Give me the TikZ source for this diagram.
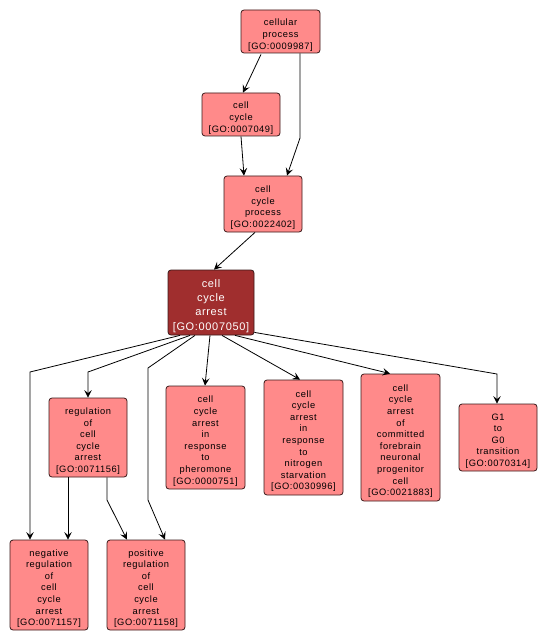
\documentclass[tikz,border=0pt]{standalone}
\usepackage{fontspec}
\setmainfont{Liberation Sans}[LetterSpace=6]
\usetikzlibrary{arrows.meta}
\definecolor{nodefill}{HTML}{FF8A8A}
\definecolor{arrestfill}{HTML}{A02E2E}
\definecolor{nodeborder}{HTML}{3A1A1A}
\tikzset{
  goterm/.style={draw=nodeborder, fill=nodefill, rounded corners=3pt, line width=0.8pt,
    inner sep=0pt},
  golbl/.style={align=center, inner sep=0pt, yshift=-3.5pt,
    font=\fontsize{9.3}{11.6}\selectfont, text=black},
  goarrest/.style={goterm, fill=arrestfill},
  arrlbl/.style={golbl, text=white, font=\fontsize{11}{14.2}\selectfont},
  edge/.style={draw=black, line width=0.8pt, -{Stealth[length=7.5pt,width=7.5pt,inset=3pt]}}
}
\begin{document}
\begin{tikzpicture}[x=1pt,y=-1pt]
\useasboundingbox (0,0) rectangle (548,644);
\fill[white] (0,0) rectangle (548,644);
\node[goterm, minimum width=79pt, minimum height=43pt, label={[golbl]center:{cellular\\process\\{[GO:0009987]}}}] (cp) at (280.5,31.5) {};
\node[goterm, minimum width=78pt, minimum height=43pt, label={[golbl]center:{cell\\cycle\\{[GO:0007049]}}}] (cc) at (241,114.5) {};
\node[goterm, minimum width=78pt, minimum height=56pt, label={[golbl]center:{cell\\cycle\\process\\{[GO:0022402]}}}] (ccp) at (263,204) {};
\node[goarrest, minimum width=86pt, minimum height=65pt, label={[arrlbl]center:{cell\\cycle\\arrest\\{[GO:0007050]}}}] (arr) at (211,302.5) {};
\node[goterm, minimum width=78pt, minimum height=79pt, label={[golbl]center:{regulation\\of\\cell\\cycle\\arrest\\{[GO:0071156]}}}] (reg) at (88,437.5) {};
\node[goterm, minimum width=79pt, minimum height=103pt, label={[golbl]center:{cell\\cycle\\arrest\\in\\response\\to\\pheromone\\{[GO:0000751]}}}] (pher) at (205.5,437.5) {};
\node[goterm, minimum width=79pt, minimum height=115pt, label={[golbl]center:{cell\\cycle\\arrest\\in\\response\\to\\nitrogen\\starvation\\{[GO:0030996]}}}] (nit) at (303.5,437.5) {};
\node[goterm, minimum width=79pt, minimum height=127pt, label={[golbl]center:{cell\\cycle\\arrest\\of\\committed\\forebrain\\neuronal\\progenitor\\cell\\{[GO:0021883]}}}] (fore) at (400.5,437.5) {};
\node[goterm, minimum width=78pt, minimum height=67pt, label={[golbl]center:{G1\\to\\G0\\transition\\{[GO:0070314]}}}] (g1) at (498,437.5) {};
\node[goterm, minimum width=78pt, minimum height=90pt, label={[golbl]center:{negative\\regulation\\of\\cell\\cycle\\arrest\\{[GO:0071157]}}}] (neg) at (49,585) {};
\node[goterm, minimum width=78pt, minimum height=90pt, label={[golbl]center:{positive\\regulation\\of\\cell\\cycle\\arrest\\{[GO:0071158]}}}] (pos) at (146,585) {};

\coordinate (k1) at (300,138);
\coordinate (k2) at (30,372);
\coordinate (k3) at (88,372);
\coordinate (k4) at (148,368);
\coordinate (k5) at (148,500);
\coordinate (k6) at (107,500);
\coordinate (k7) at (497,374);

\draw[edge] (cp.south west -| 261,0) ++(0,1) -- (cc.north -| 243,0);
\draw[edge] (cp.south -| 300,0) -- (k1) -- (ccp.north -| 287,0);
\draw[edge] (cc.south -| 241,0) -- (ccp.north -| 244,0);
\draw[edge] (ccp.south -| 255,0) -- (arr.north -| 214,0);
\draw[edge] (arr.south -| 180,0) -- (k2) -- (neg.north -| 30,0);
\draw[edge] (arr.south -| 190,0) -- (k3) -- (reg.north);
\draw[edge] (arr.south -| 195,0) -- (k4) -- (k5) -- (pos.north -| 165,0);
\draw[edge] (reg.south -| 68,0) -- (neg.north -| 68,0);
\draw[edge] (reg.south -| 107,0) -- (k6) -- (pos.north -| 127,0);
\draw[edge] (arr.south -| 210,0) -- (pher.north -| 205,0);
\draw[edge] (arr.south -| 222,0) -- (nit.north -| 300,0);
\draw[edge] (arr.south -| 235,0) -- (fore.north -| 390,0);
\draw[edge] (arr.south east) ++(0,-3) -- (k7) -- (g1.north -| 497,0);
\end{tikzpicture}
\end{document}
